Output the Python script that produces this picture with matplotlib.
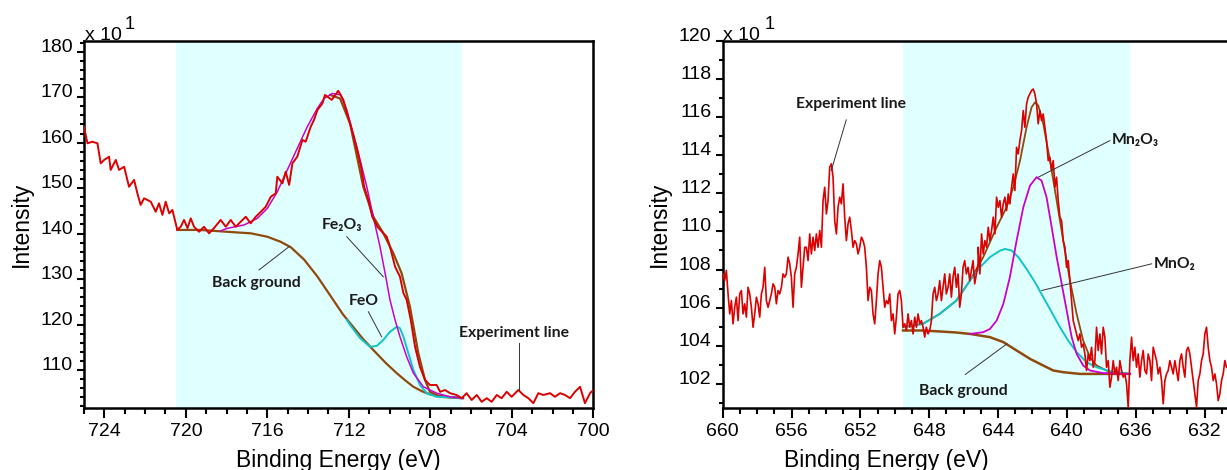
import numpy as np
import matplotlib
matplotlib.use("Agg")
import matplotlib.pyplot as plt
from matplotlib.ticker import MultipleLocator

# ---------------- Fe 2p panel (left) ----------------
fe_exp_E = [725.0, 724.83, 724.59, 724.34, 724.18, 724.01, 723.77, 723.69, 723.44, 723.28,
            723.03, 722.79, 722.54, 722.38, 722.22, 722.05, 721.72, 721.48, 721.32, 721.15,
            720.99, 720.82, 720.66, 720.42, 720.25, 720.09, 719.92, 719.76, 719.6, 719.35,
            719.11, 718.86, 718.62, 718.29, 718.04, 717.8, 717.55, 717.31, 717.06, 716.82,
            716.57, 716.32, 716.08, 715.83, 715.59, 715.51, 715.26, 715.1, 714.93, 714.77,
            714.53, 714.28, 714.12, 713.87, 713.71, 713.54, 713.3, 713.17, 712.84, 712.52,
            712.27, 712.02, 711.78, 711.55, 711.37, 711.25, 711.04, 710.85, 710.6, 710.35,
            710.14, 709.98, 709.73, 709.49, 709.32, 709.16, 708.96, 708.75, 708.51, 708.26,
            708.02, 707.69, 707.52, 707.28, 707.03, 706.71, 706.46, 706.22, 705.97, 705.72,
            705.48, 705.23, 704.99, 704.74, 704.5, 704.25, 704.01, 703.68, 703.43, 703.19,
            702.94, 702.7, 702.45, 702.12, 701.88, 701.63, 701.39, 701.14, 700.9, 700.65,
            700.41, 700.16, 700.0]
fe_exp_I = [163.5, 159.85, 160.2, 159.85, 155.45, 156.2, 156.9, 154.0, 156.2, 154.0,
            154.7, 150.3, 151.8, 148.85, 146.3, 147.75, 147.0, 144.8, 146.65, 144.1,
            147.0, 144.45, 145.2, 140.8, 141.5, 143.0, 141.2, 143.35, 141.5, 140.4,
            141.5, 140.05, 141.2, 143.0, 141.5, 143.0, 141.5, 142.6, 143.7, 142.25,
            143.7, 144.8, 145.9, 148.1, 148.85, 152.5, 151.05, 153.6, 150.7, 155.45,
            156.9, 160.6, 160.2, 163.5, 165.0, 167.2, 168.6, 170.5, 169.4, 171.4,
            169.4, 165.4, 161.7, 157.7, 154.0, 150.3, 147.4, 143.7, 141.5, 140.3,
            139.3, 137.1, 132.7, 130.5, 126.9, 125.4, 121.0, 115.1, 110.7, 107.8,
            106.7, 106.7, 105.2, 105.6, 104.9, 104.5, 103.8, 104.9, 103.4, 104.5,
            103.0, 103.8, 103.0, 104.5, 103.8, 105.2, 104.1, 105.6, 104.5, 103.8,
            102.7, 104.9, 104.5, 104.9, 104.1, 104.9, 104.5, 103.8, 105.2, 106.3,
            102.7, 104.9, 105.6]

fe_bg_E = [720.42, 719.3, 718.0, 716.8, 716.0, 715.35, 714.85, 714.2, 713.55, 712.9,
           712.3, 711.94, 711.3, 710.8, 710.2, 709.65, 709.2, 708.83, 708.4, 708.0,
           707.2, 706.4]
fe_bg_I = [140.8, 140.8, 140.4, 140.05, 139.3, 138.2, 137.0, 134.3, 130.6, 126.3,
           122.3, 120.3, 116.8, 114.4, 111.6, 109.3, 107.6, 106.3, 105.3, 104.6,
           104.1, 103.8]

fe2o3_E = [718.3, 717.96, 717.14, 716.49, 716.0, 715.51, 715.02, 714.53, 714.04, 713.55,
           713.22, 712.81, 712.4, 712.1, 711.61, 711.12, 710.8, 710.47, 710.22, 709.98,
           709.73, 709.49, 709.16, 708.83, 708.34, 707.69, 707.03, 706.38]
fe2o3_I = [140.6, 141.15, 141.9, 143.35, 145.55, 149.2, 154.0, 158.75, 163.5, 167.5,
           169.7, 170.8, 170.5, 167.2, 159.1, 150.3, 143.7, 137.1, 131.3, 125.4,
           121.0, 117.3, 112.9, 109.3, 106.3, 104.9, 104.1, 103.8]

feo_E = [712.1, 711.94, 711.45, 710.96, 710.63, 710.31, 709.98, 709.65, 709.49, 709.32,
         709.08, 708.83, 708.51, 708.18, 707.69, 707.03, 706.38]
feo_I = [121.0, 119.9, 117.0, 115.1, 115.3, 116.6, 118.4, 119.5, 119.2, 117.3,
         113.7, 110.0, 106.7, 104.9, 104.1, 104.0, 103.8]

fe_env_E = [712.92, 712.43, 711.94, 711.29, 710.8, 710.31, 709.82, 709.41, 709.0, 708.59,
            708.26, 708.02, 707.52, 706.46]
fe_env_I = [170.5, 169.7, 164.2, 150.3, 143.7, 140.1, 135.7, 131.3, 123.9, 113.7,
            107.8, 105.2, 104.1, 103.8]

fe_xticks = [724, 720, 716, 712, 708, 704, 700]
fe_yticks = [110, 120, 130, 140, 150, 160, 170, 180]
fe_region = (720.48, 706.44)

# ---------------- Mn 2p panel (right) ----------------
mn_exp_I_a = [107.77, 107.42, 107.95, 106.72, 105.67, 106.37, 105.15, 106.02, 106.55, 105.32,
              106.72, 106.9, 105.67, 106.2, 105.5, 107.07, 106.72, 106.02, 104.97, 105.67,
              106.55, 106.2, 105.5, 106.72, 107.07, 108.12, 106.37, 106.02, 106.37, 106.72,
              107.25, 107.07, 106.2, 106.9, 106.72, 107.07, 107.77, 107.6, 107.77, 108.65,
              108.3, 107.6, 106.02, 107.77, 108.12, 108.82, 109.7, 107.07, 108.12, 109.17,
              109.17, 108.47, 109.87, 108.82, 109.7, 109.0, 109.87, 109.17, 110.05, 109.17,
              111.62, 112.32, 110.92, 111.62, 113.37, 113.55, 112.85, 110.57, 109.87, 111.27,
              111.8, 111.45, 112.5, 110.75, 109.52, 110.4, 110.75, 110.05, 109.17, 109.52,
              109.35, 108.82, 109.17, 109.7, 109.52, 109.17, 108.12, 106.37, 107.07, 106.9,
              105.67, 105.15, 106.37, 107.77, 108.47, 108.12, 107.07, 106.02, 106.37, 106.2,
              106.72, 105.32, 105.67, 104.62, 105.5, 106.72, 106.9, 106.37, 104.97, 105.15,
              104.8, 105.67, 104.97, 105.32, 104.62, 105.5, 104.97, 105.67, 105.15, 105.32,
              104.97, 104.45, 104.97, 104.62, 104.8, 105.32, 106.72, 107.07, 106.37, 106.72,
              107.42, 106.37, 107.07, 107.77, 106.72, 107.07, 107.77, 106.55, 107.6, 108.12,
              107.07, 107.77, 106.02, 106.72, 108.12, 108.47, 107.77, 108.12, 107.42, 107.95,
              108.47, 107.25, 107.77, 108.3]
mn_exp_I_b = [109.17, 107.77, 109.87, 108.82, 109.52, 109.17, 110.22, 109.52, 110.05, 110.75,
              109.87, 111.8, 111.27, 111.62, 110.75, 111.45, 111.8, 111.1, 111.97, 111.45,
              112.32, 113.02, 112.15, 114.42, 114.07, 114.77, 115.3, 116.35, 115.47, 116.7,
              117.05, 117.22, 117.4, 117.48, 117.22, 116.7, 115.65, 116.35, 115.82, 116.17,
              115.47, 114.77, 113.72, 113.9, 113.2, 113.72, 112.32, 112.85, 111.62, 110.75,
              110.57, 109.52, 109.17, 108.12, 108.47, 107.42, 106.37, 105.32, 104.97, 104.62,
              104.27, 104.62, 103.92, 104.1, 103.57, 102.7, 103.57, 103.22, 103.92, 102.87,
              103.22, 104.97, 103.75, 104.62, 103.57, 104.97, 104.45, 102.87, 103.22, 101.82,
              102.35, 103.22, 102.52, 102.87, 102.17, 103.22, 102.7, 102.35, 102.52, 102.0,
              100.77, 103.22, 104.45, 103.22, 103.92, 102.87, 103.57, 102.35, 103.22, 103.75,
              102.7, 102.52, 103.57, 103.22, 102.17, 103.92, 103.57, 103.22, 102.52, 102.87,
              102.17, 100.95, 102.17, 102.52, 102.7, 103.22, 102.87, 102.52, 103.22, 102.7,
              102.17, 103.22, 103.57, 102.87, 102.35, 103.75, 103.92, 103.57, 102.87, 102.17,
              101.47, 100.77, 102.17, 102.52, 103.22, 103.57, 104.62, 104.97, 103.92, 103.22,
              102.87, 102.17, 102.52, 102.0, 101.12, 101.47, 102.17, 102.52, 103.22, 102.87]
mn_exp_E = np.concatenate([np.linspace(659.98, 645.16, len(mn_exp_I_a)),
                           np.linspace(645.15, 630.72, len(mn_exp_I_b))])
mn_exp_I = mn_exp_I_a + mn_exp_I_b

mn_bg_E = [649.52, 648.36, 646.5, 645.63, 644.47, 643.69, 642.92, 642.14, 641.37, 640.79,
           640.21, 639.24, 637.5, 636.33]
mn_bg_I = [104.8, 104.8, 104.7, 104.62, 104.45, 104.19, 103.75, 103.31, 102.96, 102.7,
           102.61, 102.52, 102.52, 102.52]

mno2_E = [649.52, 648.36, 647.39, 646.42, 645.63, 645.05, 644.47, 643.89, 643.6, 643.21,
          642.82, 642.34, 641.85, 641.37, 640.88, 640.4, 639.92, 639.43, 638.85, 638.27,
          637.5, 636.33]
mno2_I = [104.97, 105.15, 105.67, 106.37, 107.42, 108.12, 108.65, 108.99, 109.08, 109.0,
          108.65, 108.03, 107.33, 106.55, 105.76, 104.97, 104.27, 103.66, 103.13, 102.87,
          102.66, 102.52]

mn2o3_E = [645.63, 644.86, 644.47, 644.08, 643.69, 643.31, 642.92, 642.53, 642.14, 641.76,
           641.47, 641.18, 640.88, 640.59, 640.3, 640.01, 639.72, 639.43, 639.05, 638.66,
           637.88, 636.33]
mn2o3_I = [104.62, 104.71, 104.88, 105.32, 106.2, 107.6, 109.52, 111.27, 112.41, 112.85,
           112.67, 111.8, 110.22, 108.65, 107.25, 105.85, 104.45, 103.57, 102.96, 102.7,
           102.56, 102.52]

mn_env_E = [649.52, 648.36, 647.39, 646.42, 645.63, 644.86, 644.08, 643.5, 643.11, 642.72,
            642.34, 642.05, 641.85, 641.66, 641.37, 640.98, 640.59, 640.21, 639.82, 639.43,
            639.05, 638.66, 638.27, 637.5, 636.33]
mn_env_I = [104.97, 105.15, 105.67, 106.37, 107.42, 108.65, 110.22, 111.27, 112.32, 113.72,
            115.47, 116.52, 116.78, 116.61, 115.65, 113.72, 111.62, 109.52, 107.42, 105.67,
            104.27, 103.4, 102.96, 102.61, 102.52]

mn_xticks = [660, 656, 652, 648, 644, 640, 636, 632]
mn_yticks = [102, 104, 106, 108, 110, 112, 114, 116, 118, 120]
mn_region = (649.52, 636.33)

# ---------------- styling ----------------
RED = "#dd0000"
BROWN = "#8f4a0c"
MAGENTA = "#cc00cc"
CYAN = "#10c4c8"
SHADE = "#e0ffff"
TICKFONT = "Liberation Sans"
ANNFONT = ["Lato", "DejaVu Sans"]

W, H = 1227, 470
fig = plt.figure(figsize=(W / 100, H / 100), dpi=100)


def px_axes(l, t, r, b):
    return [l / W, 1 - b / H, (r - l) / W, (b - t) / H]


def style_axes(ax, xticks, yticks, xminor, yminor):
    for s in ax.spines.values():
        s.set_linewidth(1.8)
        s.set_color("black")
    ax.set_xticks(xticks)
    ax.set_yticks(yticks)
    ax.xaxis.set_minor_locator(MultipleLocator(xminor))
    ax.yaxis.set_minor_locator(MultipleLocator(yminor))
    ax.tick_params(axis="x", which="major", direction="out", length=7, width=1.5, pad=4,
                   labelsize=14, top=False)
    ax.tick_params(axis="x", which="minor", direction="out", length=4, width=1.5, top=False)
    ax.tick_params(axis="y", which="major", direction="out", length=5, width=1.5, pad=3,
                   labelsize=14, right=False)
    ax.tick_params(axis="y", which="minor", direction="out", length=3, width=1.5, right=False)
    for lab in ax.get_xticklabels() + ax.get_yticklabels():
        lab.set_fontfamily(TICKFONT)
    for lab in ax.get_yticklabels():
        lab.set_verticalalignment("baseline")
    ax.set_xlabel("Binding Energy (eV)", fontsize=16.5, fontfamily=TICKFONT)
    ax.set_ylabel("Intensity", fontsize=16.5, fontfamily=TICKFONT)
    ax.xaxis.label.set_va("baseline")


def annotate(ax, text, xy_text, xy_line0, xy_line1):
    ax.plot([xy_line0[0], xy_line1[0]], [xy_line0[1], xy_line1[1]], color="#333333",
            lw=0.7, zorder=6)
    ax.text(xy_text[0], xy_text[1], text, ha="center", va="center", fontsize=11.3,
            fontweight="bold", family=ANNFONT, color="#1a1a1a", zorder=7)


# Left axes
ax1 = fig.add_axes(px_axes(84, 41, 593.3, 408))
ax1.axvspan(fe_region[0], fe_region[1], color=SHADE, zorder=0, lw=0)
ax1.plot(fe_bg_E, fe_bg_I, color=BROWN, lw=1.6, zorder=2)
ax1.plot(fe_env_E, fe_env_I, color=BROWN, lw=1.6, zorder=2)
ax1.plot(feo_E, feo_I, color=CYAN, lw=1.4, zorder=3)
ax1.plot(fe2o3_E, fe2o3_I, color=MAGENTA, lw=1.1, zorder=3)
ax1.plot(fe_exp_E, fe_exp_I, color=RED, lw=1.4, zorder=4)
ax1.set_xlim(725, 700)
ax1.set_ylim(101.64, 182.35)
style_axes(ax1, fe_xticks, fe_yticks, 1, 2)
ax1.xaxis.set_label_coords(0.5, (408 - 466.5) / 367)
ax1.yaxis.set_label_coords((21 - 84) / 509.3, 0.5)
ax1.yaxis.label.set_va("center")
annotate(ax1, "Fe\u2082O\u2083", (712.33, 141.9), (712.1, 139.3), (710.31, 130.5))
annotate(ax1, "FeO", (711.25, 125.2), (711.04, 122.8), (710.39, 117.3))
annotate(ax1, "Back ground", (716.53, 129.1), (716.41, 132.0), (714.94, 137.1))
annotate(ax1, "Experiment line", (703.9, 118.1), (703.63, 115.9), (703.63, 105.6))

# Right axes
ax2 = fig.add_axes(px_axes(722.7, 41, 1231, 408))
ax2.axvspan(mn_region[0], mn_region[1], color=SHADE, zorder=0, lw=0)
ax2.plot(mn_bg_E, mn_bg_I, color=BROWN, lw=1.8, zorder=2)
ax2.plot(mn_env_E, mn_env_I, color=BROWN, lw=1.3, zorder=2)
ax2.plot(mno2_E, mno2_I, color=CYAN, lw=1.4, zorder=3)
ax2.plot(mn2o3_E, mn2o3_I, color=MAGENTA, lw=1.3, zorder=3)
ax2.plot(mn_exp_E, mn_exp_I, color=RED, lw=1.2, zorder=4)
ax2.set_xlim(660, 630.46)
ax2.set_ylim(100.73, 120)
style_axes(ax2, mn_xticks, mn_yticks, 1, 1)
ax2.xaxis.set_label_coords((886 - 722.7) / 508.3, (408 - 466.5) / 367)
ax2.yaxis.set_label_coords((659 - 722.7) / 508.3, 0.5)
ax2.yaxis.label.set_va("center")
annotate(ax2, "Experiment line", (652.53, 116.7), (652.82, 115.86), (653.69, 113.2))
annotate(ax2, "Mn\u2082O\u2083", (636.0, 114.81), (637.5, 114.77), (641.66, 112.85))
annotate(ax2, "MnO\u2082", (633.72, 108.3), (635.07, 108.3), (641.46, 106.9))
annotate(ax2, "Back ground", (646.0, 101.6), (645.9, 102.49), (643.48, 104.1))

# multiplier labels
for xl, xs in [(85, 125), (723, 765)]:
    fig.text(xl / W, 1 - 40 / H, "x 10", fontsize=14, family=TICKFONT, va="baseline")
    fig.text(xs / W, 1 - 29 / H, "1", fontsize=13, family=TICKFONT, va="baseline")

fig.savefig("out.png", dpi=100)
